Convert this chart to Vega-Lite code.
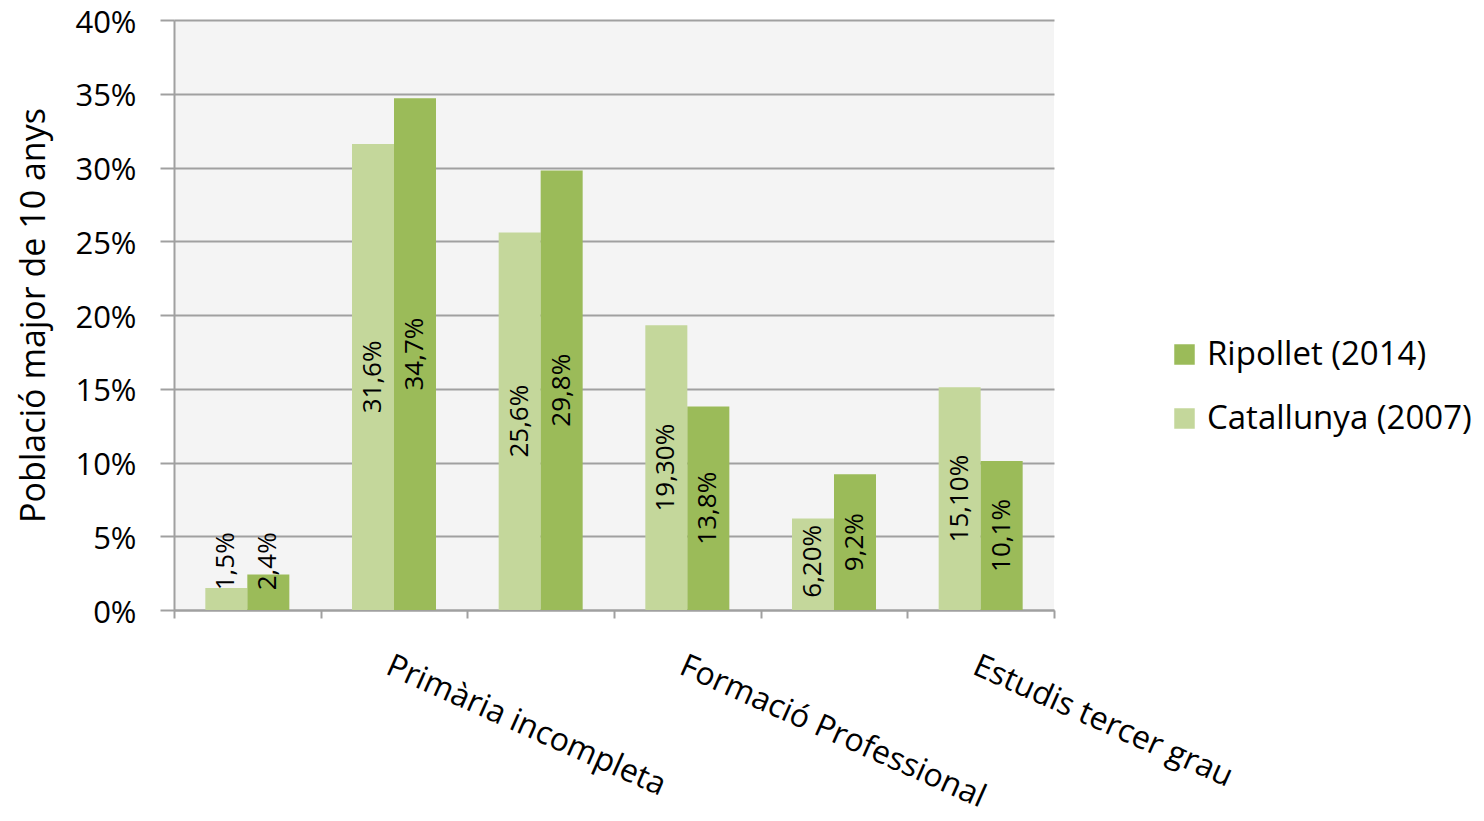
{
  "$schema": "https://vega.github.io/schema/vega-lite/v6.json",
  "autosize": "none",
  "width": 880,
  "height": 590,
  "padding": {"left": 174, "top": 20, "right": 430, "bottom": 211},
  "background": "white",
  "config": {
    "font": "Open Sans",
    "view": {"fill": "#F4F4F4", "stroke": null}
  },
  "data": {
    "values": [
      {"cat": "Analfabets", "serie": "Catallunya (2007)", "value": 0.015, "label": "1,5%"},
      {"cat": "Analfabets", "serie": "Ripollet (2014)", "value": 0.024, "label": "2,4%"},
      {"cat": "Primària incompleta", "serie": "Catallunya (2007)", "value": 0.316, "label": "31,6%"},
      {"cat": "Primària incompleta", "serie": "Ripollet (2014)", "value": 0.347, "label": "34,7%"},
      {"cat": "Primer grau", "serie": "Catallunya (2007)", "value": 0.256, "label": "25,6%"},
      {"cat": "Primer grau", "serie": "Ripollet (2014)", "value": 0.298, "label": "29,8%"},
      {"cat": "Formació Professional", "serie": "Catallunya (2007)", "value": 0.193, "label": "19,30%"},
      {"cat": "Formació Professional", "serie": "Ripollet (2014)", "value": 0.138, "label": "13,8%"},
      {"cat": "Batxillerat", "serie": "Catallunya (2007)", "value": 0.062, "label": "6,20%"},
      {"cat": "Batxillerat", "serie": "Ripollet (2014)", "value": 0.092, "label": "9,2%"},
      {"cat": "Estudis tercer grau", "serie": "Catallunya (2007)", "value": 0.151, "label": "15,10%"},
      {"cat": "Estudis tercer grau", "serie": "Ripollet (2014)", "value": 0.101, "label": "10,1%"}
    ]
  },
  "encoding": {
    "x": {
      "field": "cat",
      "type": "nominal",
      "sort": null,
      "scale": {"paddingInner": 0, "paddingOuter": 0},
      "axis": {
        "title": null,
        "grid": false,
        "domainColor": "#A0A0A0",
        "domainWidth": 2,
        "tickColor": "#A0A0A0",
        "tickWidth": 2,
        "tickSize": 8,
        "tickBand": "extent",
        "labelAngle": 24,
        "labelAlign": "left",
        "labelBaseline": "top",
        "labelPadding": 32,
        "labelFontSize": 32,
        "labelLimit": 600,
        "labelColor": "black",
        "labelOverlap": false,
        "labelExpr": "indexof(['Primària incompleta','Formació Professional','Estudis tercer grau'], datum.value) >= 0 ? datum.value : ''"
      }
    },
    "xOffset": {"field": "serie", "type": "nominal", "sort": ["Catallunya (2007)", "Ripollet (2014)"], "scale": {"paddingInner": 0, "paddingOuter": 0.746}}
  },
  "layer": [
    {
      "mark": {"type": "bar"},
      "encoding": {
        "y": {
          "field": "value",
          "type": "quantitative",
          "scale": {"domain": [0, 0.4]},
          "axis": {
            "title": "Població major de 10 anys",
            "titleFontSize": 34,
            "titleFontWeight": "normal",
            "titleColor": "black",
            "titlePadding": 23,
            "format": ".0%",
            "values": [0, 0.05, 0.1, 0.15, 0.2, 0.25, 0.3, 0.35, 0.4],
            "labelFontSize": 31,
            "labelOffset": 3,
            "labelColor": "black",
            "labelPadding": 24,
            "labelOverlap": false,
            "gridColor": "#A0A0A0",
            "gridWidth": 2,
            "domainColor": "#A0A0A0",
            "domainWidth": 2,
            "tickColor": "#A0A0A0",
            "tickWidth": 2,
            "tickSize": 14
          }
        },
        "color": {
          "field": "serie",
          "type": "nominal",
          "scale": {"domain": ["Ripollet (2014)", "Catallunya (2007)"], "range": ["#9BBB59", "#C4D79B"]},
          "legend": {
            "title": null,
            "orient": "none",
            "legendX": 994,
            "legendY": 318,
            "symbolType": "square",
            "symbolSize": 420,
            "symbolStrokeWidth": 0,
            "labelFontSize": 33,
            "labelColor": "black",
            "labelLimit": 400,
            "rowPadding": 30,
            "labelOffset": 6
          }
        }
      }
    },
    {
      "transform": [{"calculate": "max(datum.value / 2, 0.033)", "as": "pos"}],
      "mark": {"type": "text", "angle": 270, "fontSize": 26, "color": "black", "align": "center", "baseline": "middle"},
      "encoding": {
        "y": {
          "field": "pos",
          "type": "quantitative",
          "axis": {
            "title": "Població major de 10 anys",
            "values": [0, 0.05, 0.1, 0.15, 0.2, 0.25, 0.3, 0.35, 0.4],
            "format": ".0%"
          }
        },
        "text": {"field": "label"}
      }
    }
  ]
}
